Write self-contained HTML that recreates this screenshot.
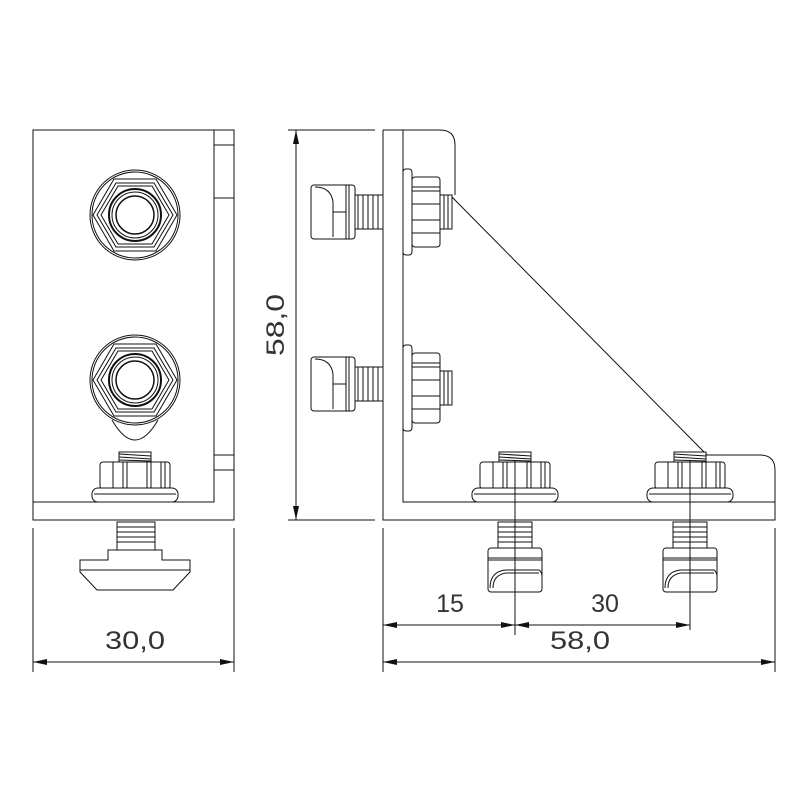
<!DOCTYPE html>
<html><head><style>html,body{margin:0;padding:0;background:#fff}svg{display:block}</style></head>
<body>
<svg width="800" height="800" viewBox="0 0 800 800" xmlns="http://www.w3.org/2000/svg" font-family="Liberation Sans, sans-serif">
<defs>
<g id="nutTop" fill="none" stroke="#111" stroke-width="1">
  <circle r="45"/><circle r="43"/>
  <polygon points="-42,0 -21,-36 21,-36 42,0 21,36 -21,36"/>
  <polygon points="-38,0 -19,-32 19,-32 38,0 19,32 -19,32"/>
  <polygon points="-34,0 -17,-29 17,-29 34,0 17,29 -17,29"/>
  <circle r="26" stroke-width="2"/><circle r="23"/><circle r="19" stroke-width="1.5"/>
</g>
<g id="nutSide" fill="none" stroke="#111" stroke-width="1">
  <rect x="-16" y="-37" width="32" height="10" fill="#fff"/>
  <path d="M-16,-35 L16,-33 M-16,-32 L16,-30 M-16,-29 L16,-28"/>
  <rect x="-35" y="-27" width="70" height="27" rx="3" fill="#fff"/>
  <path d="M-22,-27V0 M-12,-27V0 M-8,-27V0 M12,-27V0 M16,-27V0 M26,-27V0 M30,-27V0"/>
  <rect x="-43" y="-1" width="86" height="14" rx="6" fill="#fff"/>
  <path d="M-41,5H41"/>
</g>
<g id="tnutBottom" fill="none" stroke="#111" stroke-width="1">
  <rect x="-17" y="0" width="34" height="26" fill="#fff"/>
  <path d="M-17,5H17 M-17,10H17 M-17,15H17 M-17,20H17"/>
  <rect x="-27" y="26" width="54" height="44" rx="3" fill="#fff"/>
  <path d="M-27,36H27 M-27,38H27"/>
  <path d="M-25,66 Q-25,50 -10,48 H24 Q27,50 27,55"/>
  <path d="M-22,66 Q-22,53 -9,51 H24"/>
</g>
<g id="tnutLeft" fill="none" stroke="#111" stroke-width="1">
  <rect x="-28" y="-17" width="28" height="34" fill="#fff"/>
  <path d="M-5,-17V17 M-10,-17V17 M-15,-17V17 M-20,-17V17 M-25,-17V17"/>
  <rect x="-72" y="-27" width="44" height="54" rx="3" fill="#fff"/>
  <path d="M-34,-27V27 M-37,-27V27"/>
  <path d="M-68,-25 Q-52,-25 -50,-10 V25"/>
  <path d="M-50,0 H-37"/>
</g>
<g id="nutRight" fill="none" stroke="#111" stroke-width="1">
  <rect x="0" y="-43" width="9" height="86" rx="3" fill="#fff"/>
  <rect x="9" y="-35" width="28" height="70" rx="3" fill="#fff"/>
  <path d="M9,-25H37 M9,-21H37 M9,-8H37 M9,8H37 M9,21H37"/>
  <rect x="37" y="-17" width="12" height="34" fill="#fff"/>
  <path d="M41,-17V17 M45,-17V17"/>
</g>
<marker id="ar" markerWidth="14" markerHeight="6" refX="14" refY="3" orient="auto" markerUnits="userSpaceOnUse"><path d="M0,0L14,3L0,6z" fill="#111"/></marker>
</defs>

<g fill="none" stroke="#111" stroke-width="1">
<rect x="33" y="130" width="201" height="390"/>
<path d="M33,502H214V130 M214,145H234 M214,198H234 M214,455H234 M214,470H234"/>
<path d="M112,420 Q135,460 158,420"/>
<use href="#nutTop" x="135" y="215"/>
<use href="#nutTop" x="135" y="380"/>
<use href="#nutSide" x="135" y="489"/>
<rect x="117" y="522" width="38" height="28" fill="#fff"/>
<path d="M117,527H155 M117,532H155 M117,537H155 M117,542H155"/>
<path d="M108,550V560H80V572L97,590H173L190,572V560H162V550Z" fill="#fff"/>
<path d="M80,570H190"/>
<path d="M33,528V672 M234,528V672"/>
<path d="M135,662H33" marker-end="url(#ar)"/><path d="M135,662H234" marker-end="url(#ar)"/>

<path d="M383,130V520H775V470 Q775,455 760,455H705"/>
<path d="M383,130H440 Q455,130 455,145V195"/>
<path d="M403,130V502H775"/>
<path d="M450,195L707,455"/>
<use href="#nutRight" x="403" y="212"/>
<use href="#nutRight" x="403" y="388"/>
<use href="#tnutLeft" x="383" y="212"/>
<use href="#tnutLeft" x="383" y="384"/>
<use href="#nutSide" x="515" y="489"/>
<use href="#nutSide" x="690" y="489"/>
<use href="#tnutBottom" x="515" y="522"/>
<use href="#tnutBottom" x="690" y="522"/>
<path d="M288,130H375 M288,520H375"/>
<path d="M296,325V130" marker-end="url(#ar)"/><path d="M296,325V520" marker-end="url(#ar)"/>
<path d="M383,528V672 M775,528V672 M515,460V635 M690,460V630"/>
<path d="M450,625H383" marker-end="url(#ar)"/><path d="M450,625H515" marker-end="url(#ar)"/>
<path d="M600,625H515" marker-end="url(#ar)"/><path d="M600,625H690" marker-end="url(#ar)"/>
<path d="M580,662H383" marker-end="url(#ar)"/><path d="M580,662H775" marker-end="url(#ar)"/>
</g>
<g fill="#333" font-size="25" text-anchor="middle">
<text x="135" y="649" textLength="60" lengthAdjust="spacingAndGlyphs">30,0</text>
<text x="450" y="612">15</text>
<text x="605" y="612">30</text>
<text x="580" y="649" textLength="60" lengthAdjust="spacingAndGlyphs">58,0</text>
<text transform="translate(284,325) rotate(-90)" textLength="62" lengthAdjust="spacingAndGlyphs">58,0</text>
</g>
</svg>
</body></html>
